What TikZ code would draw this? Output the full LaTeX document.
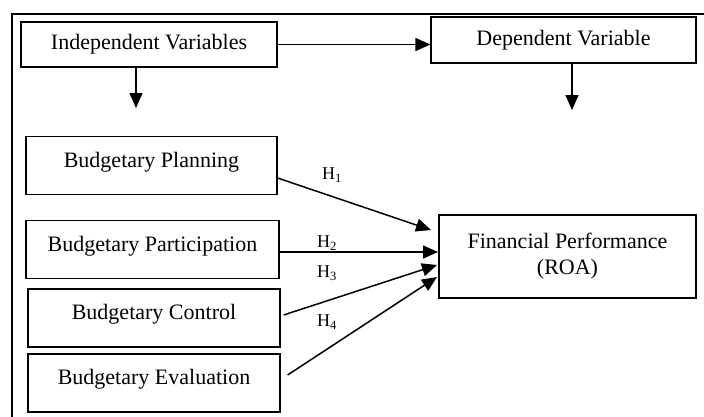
\documentclass[tikz,border=0pt]{standalone}
\usepackage{fontspec}
\setmainfont{Liberation Serif}
\usetikzlibrary{arrows.meta, positioning}
\tikzset{
  box/.style={draw, line width=1.2pt, inner sep=0pt, align=center, font=\fontsize{22}{26}\selectfont},
  var/.style={box, minimum width=252pt, minimum height=58pt, text height=15pt, text depth=12pt},
  arr/.style={-{Triangle[length=15pt, width=13pt]}, line width=1.5pt},
  hyp/.style={font=\fontsize{18}{20}\selectfont, inner sep=0pt},
}

\begin{document}
\begin{tikzpicture}[x=1pt, y=-1pt]
  \useasboundingbox (0,0) rectangle (704,416);
  \draw[line width=1.5pt] (12,420) |- (710,14);

  % top row
  \node[box, minimum width=256pt, minimum height=45pt] (indep) at (149,44.5) {Independent Variables};
  \node[box, minimum width=265pt, minimum height=46pt] (dep) at (563.5,40) {Dependent Variable};
  \draw[arr] (indep.east) -- (indep.east -| dep.west);
  \coordinate (indepbelow) at (136,108);
  \coordinate (depbelow) at (572,110);
  \draw[arr] (indepbelow |- indep.south) -- (indepbelow);
  \draw[arr] (depbelow |- dep.south) -- (depbelow);

  % variables
  \node[var, minimum width=251pt] (plan) at (151.5,165.5) {Budgetary Planning};
  \node[var, minimum width=253pt] (part) at (152.5,249.5) {Budgetary Participation};
  \node[var] (ctrl) at (154,318) {Budgetary Control};
  \node[var] (eval) at (154,383) {Budgetary Evaluation};
  \node[box, minimum width=257pt, minimum height=83pt] (fin) at (567.5,256.5) {Financial Performance\\(ROA)};

  % hypotheses
  \coordinate (h1end) at (431,230);
  \coordinate (h2end) at (438,252);
  \coordinate (h3end) at (437,265);
  \coordinate (h4end) at (437,277);
  \draw[arr] ([yshift=-12.5pt]plan.east) -- (h1end);
  \draw[arr] ([yshift=-2.5pt]part.east) -- (h2end);
  \draw[arr] ([xshift=3pt, yshift=3pt]ctrl.east) -- (h3end);
  \draw[arr] ([xshift=7pt, yshift=8pt]eval.east) -- (h4end);
  \node[hyp] (h1) at (332,175) {H\textsubscript{1}};
  \node[hyp] (h2) at (327,243) {H\textsubscript{2}};
  \node[hyp] (h3) at (327,273) {H\textsubscript{3}};
  \node[hyp] (h4) at (327,322) {H\textsubscript{4}};
\end{tikzpicture}
\end{document}
